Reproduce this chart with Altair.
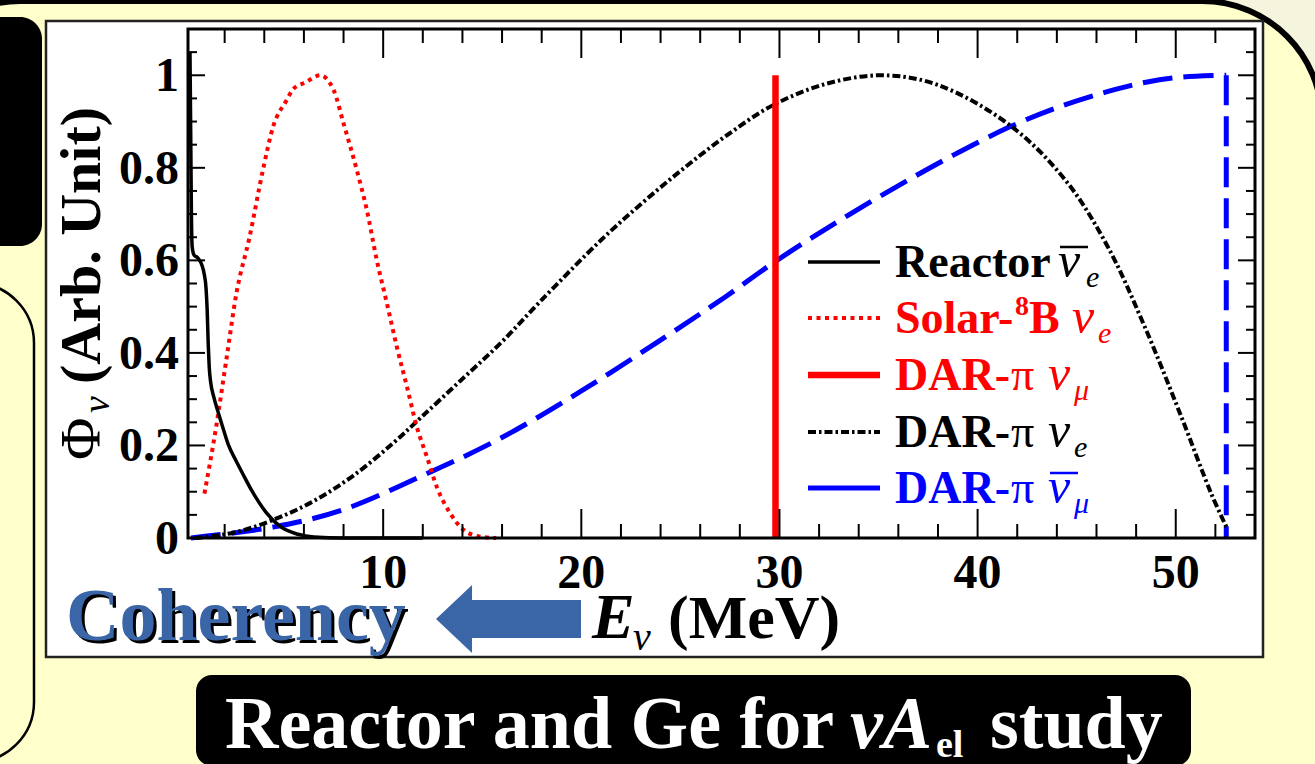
import altair as alt
import pandas as pd

# ---------------- data ----------------
reactor_E = [0.25, 0.29, 0.32, 0.36, 0.45, 0.65, 0.85, 0.97, 1.06, 1.12, 1.17, 1.22, 1.3, 1.45,
             1.65, 1.9, 2.2, 2.56, 2.9, 3.4, 4.1, 4.8, 5.7, 6.5, 8.0, 10.0, 12.0]
reactor_phi = [1.05, 0.86, 0.71, 0.63, 0.612, 0.605, 0.59, 0.57, 0.54, 0.49, 0.42, 0.37, 0.335, 0.305,
               0.275, 0.24, 0.2, 0.168, 0.14, 0.1, 0.055, 0.025, 0.008, 0.002, 0.0, 0.0, 0.0]

solar_E = [0.98, 1.57, 2.08, 2.59, 3.26, 3.93, 4.44, 5.11, 5.46, 6.1, 6.82, 7.5, 8.0, 8.67, 9.18,
           9.68, 10.19, 10.69, 11.2, 11.7, 12.21, 12.71, 13.39, 14.07, 14.9, 15.7]
solar_phi = [0.096, 0.24, 0.384, 0.528, 0.651, 0.795, 0.888, 0.945, 0.97, 0.985, 1.0, 0.968, 0.896,
             0.795, 0.708, 0.6, 0.507, 0.413, 0.327, 0.24, 0.175, 0.11, 0.053, 0.017, 0.003, 0.0]

dar_nue_E = [0.5, 2.5, 4.5, 6.5, 8.5, 10.5, 11.9, 13.9, 15.9, 17.9, 21.0, 23.1, 25.2, 27.4, 29.7,
             32.4, 35.2, 38.0, 41.6, 44.4, 46.5, 48.4, 50.3, 51.8, 52.6]
dar_nue_phi = [0.0, 0.012, 0.04, 0.08, 0.135, 0.205, 0.26, 0.34, 0.42, 0.51, 0.644, 0.725, 0.8, 0.872,
               0.936, 0.982, 1.0, 0.979, 0.893, 0.775, 0.635, 0.46, 0.26, 0.095, 0.02]

dar_numubar_E = [0.3, 4.5, 7.9, 11.9, 15.9, 19.9, 23.9, 27.3, 29.7, 32.8, 35.9, 38.8, 41.6, 44.0,
                 46.5, 48.5, 50.3, 52.55]
dar_numubar_phi = [0.0, 0.024, 0.06, 0.133, 0.215, 0.315, 0.425, 0.522, 0.595, 0.68, 0.759, 0.828, 0.888,
                   0.93, 0.964, 0.985, 0.996, 1.0]

dar_numu_E = 29.8        # monoenergetic pion decay-at-rest line
dar_numu_phi = 1.0

x_major = [10, 20, 30, 40, 50]
x_minor = [2, 4, 6, 8, 12, 14, 16, 18, 22, 24, 26, 28, 32, 34, 36, 38, 42, 44, 46, 48, 52]
y_major = [0.0, 0.2, 0.4, 0.6, 0.8, 1.0]
y_major_labels = ["0", "0.2", "0.4", "0.6", "0.8", "1"]
y_minor = [0.05, 0.1, 0.15, 0.25, 0.3, 0.35, 0.45, 0.5, 0.55, 0.65, 0.7, 0.75, 0.85, 0.9, 0.95, 1.05]

# ---------------- layout / style ----------------
W, H = 1067, 509           # plot area
OX, OY = 188, 29           # plot-area origin on the page
SERIF = "Liberation Serif"
RED, BLUE, BLACK = "#FF0000", "#0000FF", "#000000"
SLIDE = "#FFFFCC"
STEEL = "#3A66A8"

XS = alt.Scale(domain=[0.15, 54.0], nice=False, zero=False)
YS = alt.Scale(domain=[0.0, 1.1], nice=False, zero=False)

one = pd.DataFrame({"k": [0]})


def px(x):
    return x - OX


def py(y):
    return y - OY


def box(x1, y1, x2, y2, fill, stroke=None, sw=0, r=0):
    props = dict(fill=fill, cornerRadius=r, strokeWidth=sw)
    if stroke is not None:
        props["stroke"] = stroke
    return alt.Chart(one).mark_rect(**props).encode(
        x=alt.value(px(x1)), x2=alt.value(px(x2)), y=alt.value(py(y1)), y2=alt.value(py(y2)))


def seg(x1, y1, x2, y2, color, sw, dash=None):
    props = dict(color=color, strokeWidth=sw)
    if dash is not None:
        props["strokeDash"] = dash
    return alt.Chart(one).mark_rule(**props).encode(
        x=alt.value(px(x1)), x2=alt.value(px(x2)), y=alt.value(py(y1)), y2=alt.value(py(y2)))


def txt(s, x, y, size, color=BLACK, weight="bold", style="normal", align="left", angle=0):
    return alt.Chart(one).mark_text(
        text=s, font=SERIF, fontSize=size, fontWeight=weight, fontStyle=style, color=color,
        align=align, baseline="alphabetic", angle=angle).encode(x=alt.value(px(x)), y=alt.value(py(y)))


def curve(E, phi, color, sw, dash=None, interp="monotone"):
    df = pd.DataFrame({"E": E, "phi": phi})
    props = dict(color=color, strokeWidth=sw, interpolate=interp, strokeCap="butt")
    if dash is not None:
        props["strokeDash"] = dash
    return alt.Chart(df).mark_line(**props).encode(
        x=alt.X("E:Q", scale=XS, axis=None), y=alt.Y("phi:Q", scale=YS, axis=None))


layers = []

# ---- slide decorations ----
layers.append(box(-100, 1, 1322, 900, SLIDE, BLACK, 6, 120))
layers.append(box(-60, 17, 42, 246, BLACK, r=22))
layers.append(box(-100, 283, 34, 762, "transparent", BLACK, 2.5, 60))
layers.append(box(46, 21, 1263, 657, "white", "#222222", 2.5, 0))
layers.append(box(196, 675, 1191, 766, BLACK, r=16))

# ---- curves ----
layers.append(curve(dar_numubar_E, dar_numubar_phi, BLUE, 5, [30, 11], "catmull-rom"))
drop = pd.DataFrame({"E": [dar_numubar_E[-1]], "lo": [0.0], "hi": [dar_numubar_phi[-1]]})
layers.append(alt.Chart(drop).mark_rule(color=BLUE, strokeWidth=5, strokeDash=[30, 11]).encode(
    x=alt.X("E:Q", scale=XS, axis=None), y=alt.Y("hi:Q", scale=YS, axis=None), y2="lo:Q"))
layers.append(curve(dar_nue_E, dar_nue_phi, BLACK, 4, [8, 3, 2.5, 3], "catmull-rom"))
layers.append(curve(solar_E, solar_phi, RED, 4, [4, 4.5]))
layers.append(curve(reactor_E, reactor_phi, BLACK, 3.5))
line = pd.DataFrame({"E": [dar_numu_E], "lo": [0.0], "hi": [dar_numu_phi]})
layers.append(alt.Chart(line).mark_rule(color=RED, strokeWidth=6.5).encode(
    x=alt.X("E:Q", scale=XS, axis=None), y=alt.Y("hi:Q", scale=YS, axis=None), y2="lo:Q"))

# ---- frame and inward ticks (all four sides) ----
layers.append(box(OX, OY, OX + W, OY + H, "transparent", BLACK, 3, 0))
for vals, L in ((x_major, 29), (x_minor, 14)):
    d = pd.DataFrame({"v": vals})
    xe = alt.X("v:Q", scale=XS, axis=None)
    layers.append(alt.Chart(d).mark_rule(color=BLACK, strokeWidth=2).encode(
        x=xe, y=alt.value(H), y2=alt.value(H - L)))
    layers.append(alt.Chart(d).mark_rule(color=BLACK, strokeWidth=2).encode(
        x=xe, y=alt.value(0), y2=alt.value(L)))
for vals, L in ((y_major, 17), (y_minor, 9)):
    d = pd.DataFrame({"v": vals})
    ye = alt.Y("v:Q", scale=YS, axis=None)
    layers.append(alt.Chart(d).mark_rule(color=BLACK, strokeWidth=2).encode(
        y=ye, x=alt.value(0), x2=alt.value(L)))
    layers.append(alt.Chart(d).mark_rule(color=BLACK, strokeWidth=2).encode(
        y=ye, x=alt.value(W), x2=alt.value(W - L)))

# ---- tick labels ----
xl = pd.DataFrame({"v": x_major, "t": [str(v) for v in x_major]})
layers.append(alt.Chart(xl).mark_text(font=SERIF, fontSize=48, fontWeight="bold", align="center",
                                       baseline="alphabetic").encode(
    x=alt.X("v:Q", scale=XS, axis=None), y=alt.value(py(588)), text="t:N"))
yl = pd.DataFrame({"v": y_major, "t": y_major_labels})
layers.append(alt.Chart(yl).mark_text(font=SERIF, fontSize=48, fontWeight="bold", align="right",
                                       baseline="alphabetic", dy=16).encode(
    y=alt.Y("v:Q", scale=YS, axis=None), x=alt.value(px(179)), text="t:N"))

# ---- axis titles ----
layers.append(txt("\u03A6", 100, 460, 58, weight="normal", angle=270))
layers.append(txt("\u03BD", 109, 413, 38, weight="normal", style="italic", angle=270))
layers.append(txt("(Arb. Unit)", 100, 384, 58, angle=270))

layers.append(txt("E", 592, 638, 64, style="italic"))
layers.append(txt("\u03BD", 633, 650, 40, weight="normal", style="italic"))
layers.append(txt("(MeV)", 668, 638, 62))

# ---- "Coherency" with arrow ----
layers.append(txt("Coherency", 69, 643, 74))
layers.append(txt("Coherency", 66, 640, 74, color=STEEL))
arrow = "M -1 0 L -0.503 -0.469 L -0.503 -0.262 L 1 -0.262 L 1 0.262 L -0.503 0.262 L -0.503 0.469 Z"
layers.append(alt.Chart(one).mark_point(shape=arrow, size=145 ** 2, filled=True, color=STEEL,
                                         opacity=1, strokeWidth=0).encode(
    x=alt.value(px(508.5)), y=alt.value(py(619))))

# ---- legend ----
LX1, LX2 = 808, 880
rows = [262, 318, 375, 432, 488]
layers.append(seg(LX1, rows[0], LX2, rows[0], BLACK, 3.5))
layers.append(seg(LX1, rows[1], LX2, rows[1], RED, 4, [4, 4.5]))
layers.append(seg(LX1, rows[2], LX2, rows[2], RED, 6.5))
layers.append(seg(LX1, rows[3], LX2, rows[3], BLACK, 4, [8, 3, 2.5, 3]))
layers.append(seg(LX1, rows[4], LX2, rows[4], BLUE, 5))

FS = 46
b = [r + 15 for r in rows]
# Reactor anti-nu_e
layers.append(txt("Reactor", 895, b[0], FS))
layers.append(txt("\u03BD", 1058, b[0], FS + 4, weight="normal", style="italic"))
layers.append(seg(1060, rows[0] - 15, 1088, rows[0] - 15, BLACK, 2.5))
layers.append(txt("e", 1086, b[0] + 10, 30, weight="normal", style="italic"))
# Solar 8B nu_e
layers.append(txt("Solar-", 895, b[1], FS, color=RED))
layers.append(txt("8", 1015, b[1] - 18, 28, color=RED))
layers.append(txt("B", 1029, b[1], FS, color=RED))
layers.append(txt("\u03BD", 1072, b[1], FS + 4, color=RED, weight="normal", style="italic"))
layers.append(txt("e", 1098, b[1] + 10, 30, color=RED, weight="normal", style="italic"))
# DAR-pi rows
for i, col, sub, bar in ((2, RED, "\u03BC", False), (3, BLACK, "e", False), (4, BLUE, "\u03BC", True)):
    layers.append(txt("DAR-", 895, b[i], FS, color=col))
    layers.append(txt("\u03C0", 1011, b[i], FS, color=col, weight="normal"))
    layers.append(txt("\u03BD", 1048, b[i], FS + 4, color=col, weight="normal", style="italic"))
    if bar:
        layers.append(seg(1050, rows[i] - 15, 1078, rows[i] - 15, col, 2.5))
    layers.append(txt(sub, 1074, b[i] + 10, 30, color=col, weight="normal", style="italic"))

# ---- bottom banner ----
layers.append(txt("Reactor and Ge for", 225, 748, 74, color="white"))
layers.append(txt("\u03BDA", 850, 748, 74, color="white", style="italic"))
layers.append(txt("el", 936, 757, 38, color="white"))
layers.append(txt("study", 990, 748, 74, color="white"))

chart = alt.layer(*layers).properties(
    width=W, height=H,
    autosize=alt.AutoSizeParams(type="none"),
    padding={"left": OX, "top": OY, "right": 1315 - OX - W, "bottom": 764 - OY - H},
    background="#F4F5DC",
).configure_view(stroke=None)

chart.save("out.html", embed_options={"renderer": "svg", "actions": False})
